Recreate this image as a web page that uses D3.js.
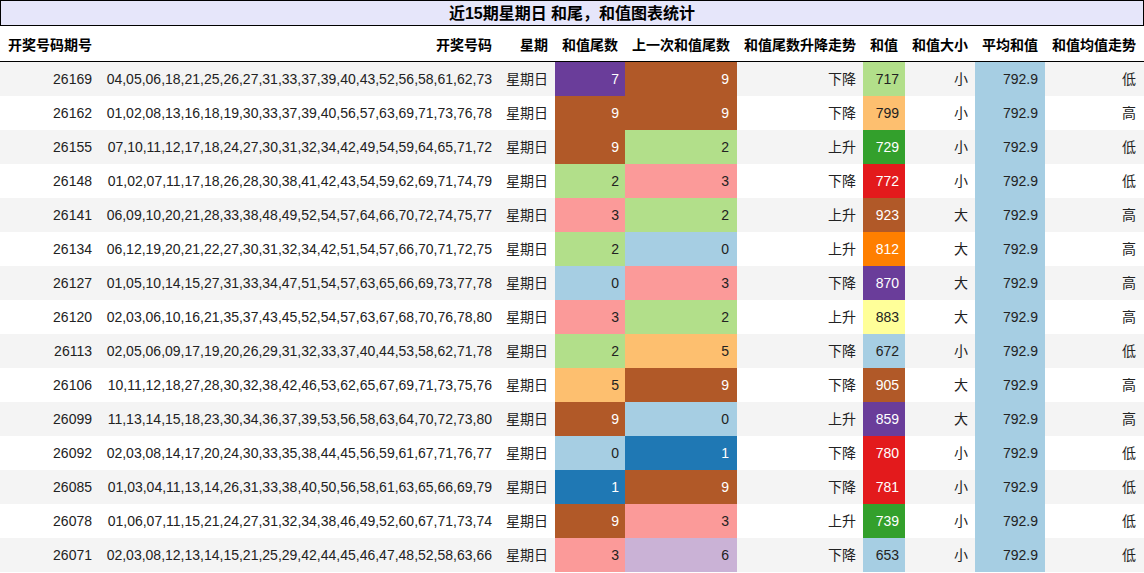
<!DOCTYPE html>
<html><head><meta charset="utf-8">
<script src="https://cdn.jsdelivr.net/npm/d3@7"></script>
<style>body{margin:0;background:#fff}text{font-family:"Liberation Sans","Noto Sans CJK SC",sans-serif}</style>
</head><body><svg id="c" width="1144" height="573"></svg>
<script>
const title = "近15期星期日 和尾，和值图表统计";
const headers = ["开奖号码期号","开奖号码","星期","和值尾数","上一次和值尾数","和值尾数升降走势","和值","和值大小","平均和值","和值均值走势"];
const issues = ["26169","26162","26155","26148","26141","26134","26127","26120","26113","26106","26099","26092","26085","26078","26071"];
const numbers = [
"04,05,06,18,21,25,26,27,31,33,37,39,40,43,52,56,58,61,62,73",
"01,02,08,13,16,18,19,30,33,37,39,40,56,57,63,69,71,73,76,78",
"07,10,11,12,17,18,24,27,30,31,32,34,42,49,54,59,64,65,71,72",
"01,02,07,11,17,18,26,28,30,38,41,42,43,54,59,62,69,71,74,79",
"06,09,10,20,21,28,33,38,48,49,52,54,57,64,66,70,72,74,75,77",
"06,12,19,20,21,22,27,30,31,32,34,42,51,54,57,66,70,71,72,75",
"01,05,10,14,15,27,31,33,34,47,51,54,57,63,65,66,69,73,77,78",
"02,03,06,10,16,21,35,37,43,45,52,54,57,63,67,68,70,76,78,80",
"02,05,06,09,17,19,20,26,29,31,32,33,37,40,44,53,58,62,71,78",
"10,11,12,18,27,28,30,32,38,42,46,53,62,65,67,69,71,73,75,76",
"11,13,14,15,18,23,30,34,36,37,39,53,56,58,63,64,70,72,73,80",
"02,03,08,14,17,20,24,30,33,35,38,44,45,56,59,61,67,71,76,77",
"01,03,04,11,13,14,26,31,33,38,40,50,56,58,61,63,65,66,69,79",
"01,06,07,11,15,21,24,27,31,32,34,38,46,49,52,60,67,71,73,74",
"02,03,08,12,13,14,15,21,25,29,42,44,45,46,47,48,52,58,63,66"];
const weekday = "星期日";
const tails = [7,9,9,2,3,2,0,3,2,5,9,0,1,9,3];
const prevTails = [9,9,2,3,2,0,3,2,5,9,0,1,9,3,6];
const trend = ["下降","下降","上升","下降","上升","上升","下降","上升","下降","下降","上升","下降","下降","上升","下降"];
const sums = [717,799,729,772,923,812,870,883,672,905,859,780,781,739,653];
const sizes = ["小","小","小","小","大","大","大","大","小","大","大","小","小","小","小"];
const avg = 792.9;
const avgTrend = ["低","高","低","低","高","高","高","高","低","高","高","低","低","低","低"];

const svg = d3.select("#c");
const P = d3.schemePaired;
const tailColor = d3.scaleOrdinal().domain([0,1,2,3,5,6,7,9]).range([P[0],P[1],P[2],P[4],P[6],P[8],P[9],P[11]]);
const sumColor = d3.scaleThreshold().domain([700,720,760,790,805,850,880,900]).range([P[0],P[2],P[3],P[5],P[6],P[7],P[9],P[10],P[11]]);
const darkSet = new Set([P[1],P[3],P[5],P[7],P[9],P[11]]);
const txtCol = c => darkSet.has(c) ? "#fff" : "#222";

const y = d3.scaleBand().domain(d3.range(15)).range([62,572]).padding(0);
// title
svg.append("rect").attr("x",0.5).attr("y",0.5).attr("width",1143).attr("height",25).attr("fill","#e6e6fa").attr("stroke","#000");
svg.append("text").attr("x",572).attr("y",19).attr("text-anchor","middle").attr("font-size",16).attr("font-weight","bold").text(title);
// header
const hx = [[8,"start"],[492,"end"],[548,"end"],[590,"middle"],[681,"middle"],[800,"middle"],[884,"middle"],[940,"middle"],[1010,"middle"],[1094,"middle"]];
headers.forEach((h,i)=>svg.append("text").attr("x",hx[i][0]).attr("y",50).attr("text-anchor",hx[i][1]).attr("font-size",14).attr("font-weight","bold").text(h));
svg.append("line").attr("x1",0).attr("x2",1144).attr("y1",61.5).attr("y2",61.5).attr("stroke","#000");

const rows = svg.selectAll("g.r").data(d3.range(15)).join("g").attr("transform",i=>`translate(0,${y(i)})`);
const h = y.bandwidth();
rows.append("rect").attr("width",1144).attr("height",h).attr("fill",i=>i%2?"#fff":"#f4f4f4");
function cell(x0,x1,colorFn){
  rows.append("rect").attr("x",x0).attr("width",x1-x0).attr("height",h).attr("fill",colorFn);
}
cell(555,625,i=>tailColor(tails[i]));
cell(625,737,i=>tailColor(prevTails[i]));
cell(863,905,i=>sumColor(sums[i]));
cell(975,1045,()=>P[0]);
function col(x,fn,colFn){
  rows.append("text").attr("x",x).attr("y",h/2+5).attr("text-anchor","end").attr("font-size",14).attr("fill",colFn||"#222").text(fn);
}
col(92,i=>issues[i]);
col(492,i=>numbers[i]);
col(548,()=>weekday);
col(619,i=>tails[i],i=>txtCol(tailColor(tails[i])));
col(729,i=>prevTails[i],i=>txtCol(tailColor(prevTails[i])));
col(856,i=>trend[i]);
col(899,i=>sums[i],i=>txtCol(sumColor(sums[i])));
col(968,i=>sizes[i]);
col(1038,()=>avg.toFixed(1));
col(1136,i=>avgTrend[i]);
</script></body></html>
